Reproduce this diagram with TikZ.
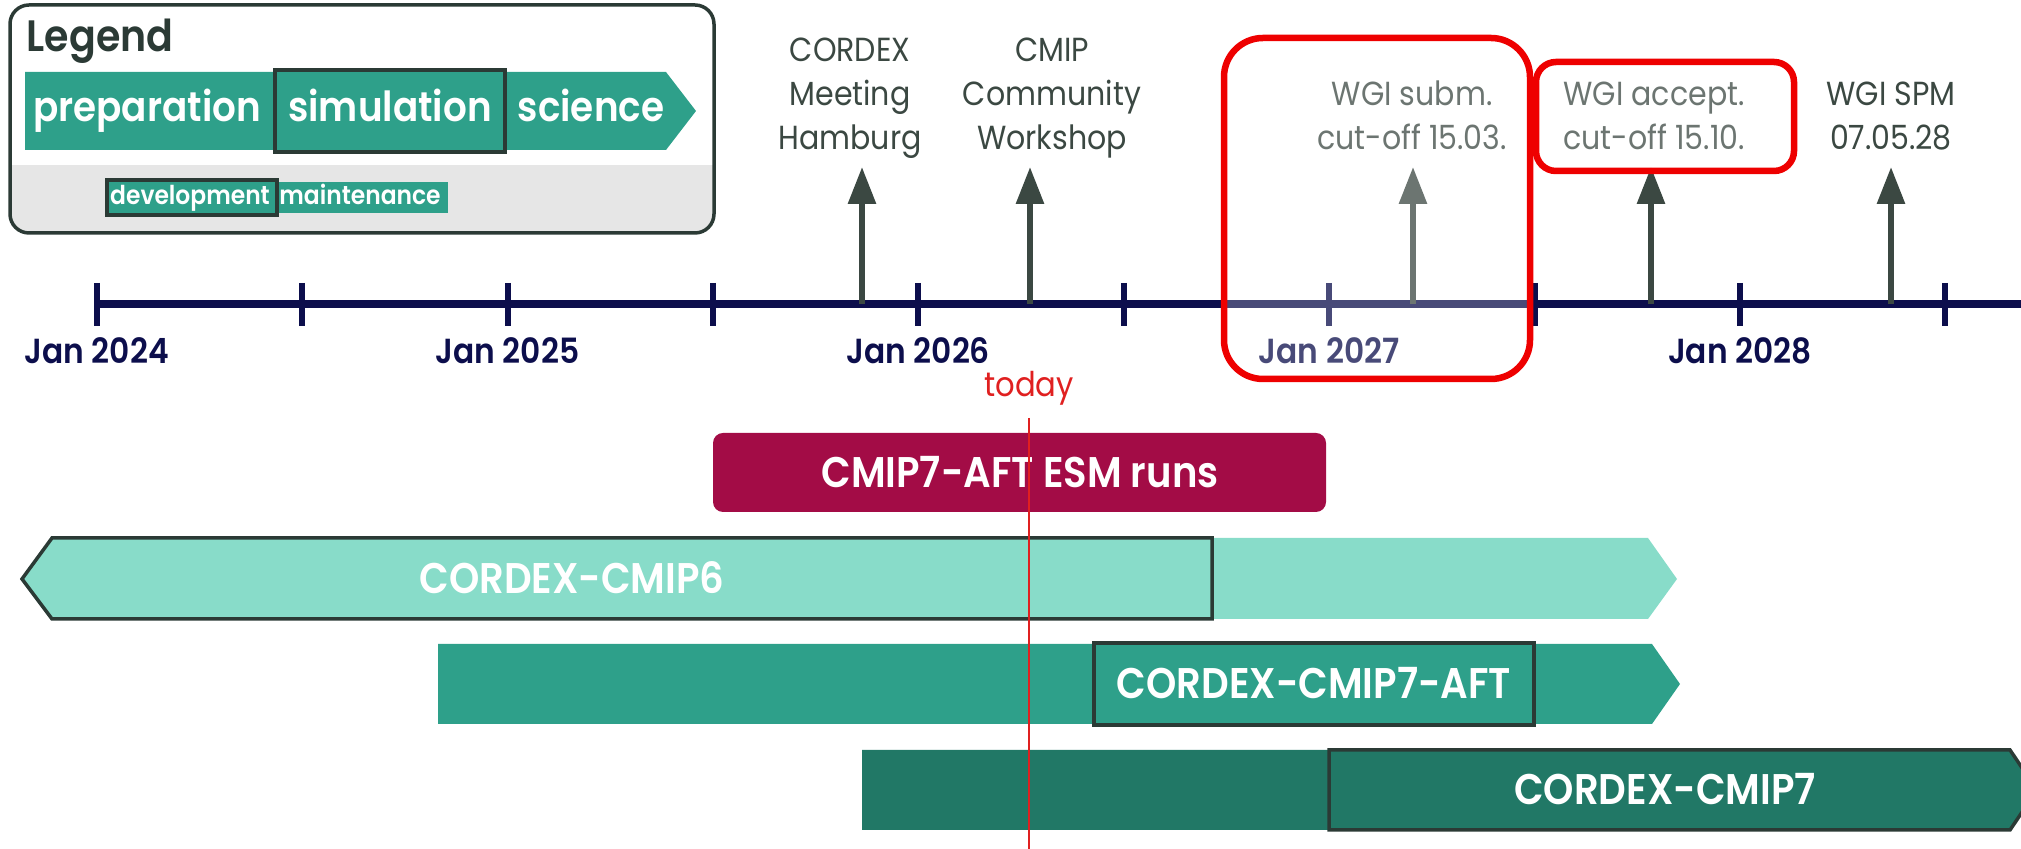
\documentclass[tikz,border=0pt]{standalone}
\usepackage{fontspec}
\setmainfont{Poppins}[FakeStretch=0.9,BoldFont={Poppins SemiBold}]
\usetikzlibrary{arrows.meta}
\definecolor{navy}{HTML}{0C0E4C}
\definecolor{evgrey}{HTML}{3B4842}
\definecolor{outl}{HTML}{2B3A35}
\definecolor{lightteal}{HTML}{88DCC9}
\definecolor{midteal}{HTML}{2EA08A}
\definecolor{darkteal}{HTML}{217866}
\definecolor{crimson}{HTML}{A30C46}
\definecolor{legendgrey}{HTML}{E6E6E6}
\definecolor{markred}{HTML}{EE0000}
\definecolor{todayred}{HTML}{E02020}
\newlength{\lw}
\setlength{\lw}{0.8mm}
\tikzstyle{every picture}+=[>={Triangle[length=3.7mm,width=2.7mm]}]
\tikzstyle{every picture}+=[join=miter]
\tikzstyle{every node}+=[inner sep=0pt]
\tikzstyle{timeline}=[navy,line width=\lw]
\tikzstyle{tickmark}=[navy,line width=0.6mm]
\tikzstyle{yearlbl}=[navy,anchor=base,font=\bfseries\fontsize{9.9}{12}\selectfont]
\tikzstyle{evarrow}=[->,evgrey,line width=0.6mm,shorten >=0.4mm]
\tikzstyle{evlabel}=[evgrey,align=center,anchor=south,font=\fontsize{9.5}{12.5}\selectfont]
\tikzstyle{legtext}=[white,anchor=base,font=\bfseries\fontsize{11.8}{14}\selectfont]
\tikzstyle{legsmall}=[white,anchor=base,font=\bfseries\fontsize{7.4}{9}\selectfont]
\tikzstyle{bartext}=[white,text height=8.4pt,text depth=0pt,font=\bfseries\fontsize{12.2}{14}\selectfont]
\tikzstyle{outline}=[outl,line width=0.35mm]
\tikzstyle{redframe}=[markred,line width=0.65mm]
\tikzstyle{veil}=[white,opacity=0.25]
\tikzstyle{todayline}=[todayred,line width=0.25mm]

\begin{document}
\begin{tikzpicture}[x=0.1mm,y=-0.1mm]
\useasboundingbox (0,0) rectangle (2021,849);
\clip (0,0) rectangle (2021,849);

% legend
\begin{scope}
\clip[rounded corners=1.9mm] (10,5) rectangle (714,233);
\fill[legendgrey] (10,165) rectangle (714,233);
\end{scope}
\draw[outline,rounded corners=1.9mm] (10,5) rectangle (714,233);
\node[anchor=base west,outl,font=\bfseries\fontsize{12.5}{14}\selectfont] (legend) at (26,52) {Legend};
\fill[midteal] (25,72) -- (666,72) -- (696,111) -- (666,150) -- (25,150) -- cycle;
\draw[outline] (275,70) rectangle (505,152);
\node[legtext] (prep) at (147,122) {preparation};
\node[legtext] (sim) at (390,122) {simulation};
\node[legtext] (sci) at (591,122) {science};
\fill[midteal] (107,182) rectangle (448,213);
\draw[outline] (107,180) rectangle (277,215);
\node[legsmall] (dev) at (190,205) {development};
\node[legsmall] (maint) at (360,205) {maintenance};

% time axis, one tick every half year
\draw[timeline] (96.7,304) -- (2021,304);
\foreach \i in {0,...,9}
  \draw[tickmark] ({96.7+205.4*\i},283) -- ({96.7+205.4*\i},326);
\foreach \yr [count=\i from 0] in {2024,...,2028}
  \node[yearlbl] (jan\yr) at ({96.7+410.8*\i},364) {Jan \yr};

% events
\coordinate (ev1) at (862,304);
\coordinate (ev2) at (1030,304);
\coordinate (ev3) at (1413,304);
\coordinate (ev4) at (1651,304);
\coordinate (ev5) at (1891,304);
\node[evlabel] (meeting) at (850,163) {CORDEX\\Meeting\\Hamburg\strut};
\node[evlabel] (workshop) at (1052,163) {CMIP\\Community\\Workshop\strut};
\node[evlabel] (subm) at (1412,163) {WGI subm.\\cut-off 15.03.\strut};
\node[evlabel] (accept) at (1654,163) {WGI accept.\\cut-off 15.10.\strut};
\node[evlabel] (spm) at (1891,163) {WGI SPM\\07.05.28\strut};
\draw[evarrow] (ev1) -- (ev1 |- meeting.south);
\draw[evarrow] (ev2) -- (ev2 |- workshop.south);
\draw[evarrow] (ev3) -- (ev3 |- subm.south);
\draw[evarrow] (ev4) -- (ev4 |- accept.south);
\draw[evarrow] (ev5) -- (ev5 |- spm.south);

% IPCC deadlines marked in red
\fill[veil,rounded corners=3.9mm] (1224,38) rectangle (1530,379);
\draw[redframe,rounded corners=3.9mm] (1224,38) rectangle (1530,379);
\fill[veil,rounded corners=2mm] (1536,62) rectangle (1794,171);
\draw[redframe,rounded corners=2mm] (1536,62) rectangle (1794,171);

% runs
\fill[crimson,rounded corners=1mm] (713,433) rectangle (1326,512);
\node[bartext] (esm) at (1020,473) {CMIP7-AFT ESM runs};
\fill[lightteal] (22,579) -- (52,538) -- (1648,538) -- (1677,579) -- (1648,619) -- (52,619) -- cycle;
\draw[outline] (22,579) -- (52,538) -- (1212,538) -- (1212,619) -- (52,619) -- cycle;
\node[bartext] (cmip6) at (572,579) {CORDEX-CMIP6};
\fill[midteal] (438,644) -- (1652,644) -- (1680,684) -- (1652,724) -- (438,724) -- cycle;
\draw[outline] (1094,643) rectangle (1534,725);
\node[bartext] (cmip7aft) at (1314,684) {CORDEX-CMIP7-AFT};
\fill[darkteal] (862,750) -- (2010,750) -- (2037,790) -- (2010,830) -- (862,830) -- cycle;
\draw[outline] (1329,750) -- (2010,750) -- (2037,790) -- (2010,830) -- (1329,830) -- cycle;
\node[bartext] (cmip7) at (1665,790) {CORDEX-CMIP7};

% today
\node[todayred,anchor=base,font=\fontsize{9.7}{12}\selectfont] (today) at (1029,397) {today};
\coordinate (todayend) at (1029,849);
\draw[todayline] (today.south |- 0,418) -- (todayend);
\end{tikzpicture}
\end{document}
